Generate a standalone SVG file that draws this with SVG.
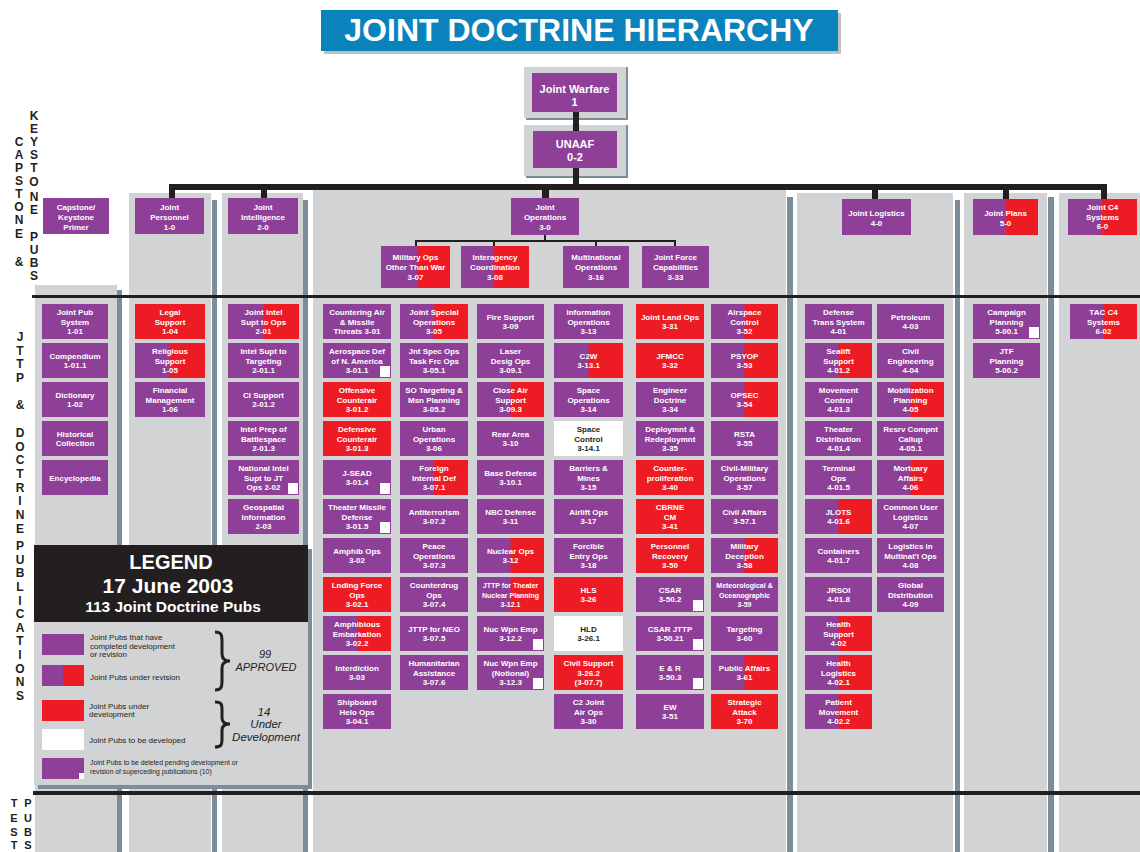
<svg xmlns="http://www.w3.org/2000/svg" width="1140" height="852" viewBox="0 0 1140 852">
<style>
.p{fill:#8e3f97}.r{fill:#ed1c24}.w{fill:#fff}.g{fill:#d1d3d4}.s{fill:#7b8d99}.k{fill:#231f20}
text{font-family:"Liberation Sans",Arial,sans-serif}
.t{font-size:8px;font-weight:bold;fill:#fff;text-anchor:middle}
.ts{font-size:7px;font-weight:bold;fill:#fff;text-anchor:middle}
.tb{font-size:8px;font-weight:bold;fill:#231f20;text-anchor:middle}
.v{font-size:12px;font-weight:bold;fill:#231f20;text-anchor:middle}
.lg{font-size:8px;fill:#231f20}
.li{font-size:11px;font-style:italic;fill:#231f20;text-anchor:middle}
</style>
<rect width="1140" height="852" fill="#fff"/>
<!-- title -->
<g id="title">
<rect x="324" y="13" width="517" height="41" fill="#bfc1c3"/>
<rect x="321" y="10" width="517" height="41" fill="#0a83bd"/>
<text x="579" y="41" font-size="32" font-weight="bold" fill="#fff" text-anchor="middle">JOINT DOCTRINE HIERARCHY</text>
</g>
<!-- column backgrounds -->
<g id="columns">
<rect class="g" x="35" y="285" width="82" height="567"/>
<rect class="s" x="117" y="290" width="5" height="562"/>
<rect class="g" x="129" y="193" width="82" height="659"/>
<rect class="s" x="212" y="200" width="5" height="652"/>
<rect class="g" x="222" y="193" width="81" height="659"/>
<rect class="s" x="303" y="200" width="5" height="652"/>
<rect class="g" x="313" y="190" width="473" height="662"/>
<rect class="s" x="787" y="197" width="6" height="655"/>
<rect class="g" x="797" y="193" width="156" height="659"/>
<rect class="s" x="955" y="200" width="5" height="652"/>
<rect class="g" x="964" y="193" width="83" height="659"/>
<rect class="s" x="1048" y="197" width="6" height="655"/>
<rect class="g" x="1059" y="193" width="81" height="659"/>
</g>
<!-- frames of top nodes -->
<g id="frames">
<rect class="g" x="524" y="67" width="102" height="51"/>
<rect class="s" x="626" y="67" width="2" height="53"/>
<rect class="s" x="526" y="118" width="102" height="2"/>
<rect class="g" x="524" y="125" width="102" height="51"/>
<rect class="s" x="626" y="125" width="2" height="53"/>
<rect class="s" x="526" y="176" width="102" height="2"/>
</g>
<!-- connectors -->
<g id="connectors" class="k">
<rect x="573" y="112" width="6" height="19"/>
<rect x="573" y="168" width="6" height="20"/>
<rect x="169" y="184" width="938" height="6"/>
<rect x="169" y="184" width="6" height="14"/>
<rect x="261" y="184" width="6" height="14"/>
<rect x="542" y="184" width="7" height="14"/>
<rect x="872" y="184" width="6" height="15"/>
<rect x="1003" y="184" width="6" height="15"/>
<rect x="1101" y="184" width="6" height="15"/>
<rect x="544" y="235" width="2" height="6"/>
<rect x="415" y="240" width="261" height="2"/>
<rect x="415" y="240" width="2" height="6"/>
<rect x="493" y="240" width="2" height="6"/>
<rect x="595" y="240" width="2" height="6"/>
<rect x="674" y="240" width="2" height="6"/>
<rect x="32" y="295" width="1108" height="3"/>
<rect x="33" y="791" width="1107" height="4"/>
</g>
<!-- side labels -->
<g id="side-labels">
<text class="v"><tspan x="19" y="146">C</tspan><tspan x="19" y="159">A</tspan><tspan x="19" y="172">P</tspan><tspan x="19" y="185">S</tspan><tspan x="19" y="198">T</tspan><tspan x="19" y="211">O</tspan><tspan x="19" y="224">N</tspan><tspan x="19" y="238">E</tspan><tspan x="19" y="266">&amp;</tspan></text>
<text class="v"><tspan x="34" y="120">K</tspan><tspan x="34" y="133">E</tspan><tspan x="34" y="146">Y</tspan><tspan x="34" y="159">S</tspan><tspan x="34" y="172">T</tspan><tspan x="34" y="186">O</tspan><tspan x="34" y="201">N</tspan><tspan x="34" y="214">E</tspan><tspan x="34" y="241">P</tspan><tspan x="34" y="254">U</tspan><tspan x="34" y="267">B</tspan><tspan x="34" y="280">S</tspan></text>
<text class="v"><tspan x="20" y="341">J</tspan><tspan x="20" y="354.5">T</tspan><tspan x="20" y="368">T</tspan><tspan x="20" y="381.5">P</tspan><tspan x="20" y="409">&amp;</tspan><tspan x="20" y="437">D</tspan><tspan x="20" y="450.6">O</tspan><tspan x="20" y="464">C</tspan><tspan x="20" y="478">T</tspan><tspan x="20" y="491.5">R</tspan><tspan x="20" y="505">I</tspan><tspan x="20" y="519">N</tspan><tspan x="20" y="532.5">E</tspan><tspan x="20" y="550">P</tspan><tspan x="20" y="563.6">U</tspan><tspan x="20" y="577">B</tspan><tspan x="20" y="591">L</tspan><tspan x="20" y="604.5">I</tspan><tspan x="20" y="618">C</tspan><tspan x="20" y="632">A</tspan><tspan x="20" y="645">T</tspan><tspan x="20" y="659">I</tspan><tspan x="20" y="672.6">O</tspan><tspan x="20" y="686">N</tspan><tspan x="20" y="700">S</tspan></text>
<text class="v" style="font-size:11px"><tspan x="14" y="807">T</tspan><tspan x="14" y="822">E</tspan><tspan x="14" y="836">S</tspan><tspan x="14" y="849">T</tspan><tspan x="28" y="807">P</tspan><tspan x="28" y="822">U</tspan><tspan x="28" y="836">B</tspan><tspan x="28" y="849">S</tspan></text>
</g>
<!-- top nodes -->
<g id="jp-1"><rect class="p" x="532" y="73" width="85" height="39"/><text class="t" style="font-size:11px" x="574.5" y="93"><tspan x="574.5">Joint Warfare</tspan><tspan x="574.5" dy="13">1</tspan></text></g>
<g id="jp-0-2"><rect class="p" x="533" y="131" width="84" height="37"/><text class="t" style="font-size:11px" x="575" y="148"><tspan x="575">UNAAF</tspan><tspan x="575" dy="13">0-2</tspan></text></g>
<g id="capstone-primer"><rect class="p" x="43" y="198" width="66" height="36"/><text class="t" x="76" y="210"><tspan x="76">Capstone/</tspan><tspan x="76" dy="10">Keystone</tspan><tspan x="76" dy="10">Primer</tspan></text></g>
<g id="jp-1-0"><rect class="p" x="135" y="198" width="69" height="36"/><text class="t" x="169.5" y="210"><tspan x="169.5">Joint</tspan><tspan x="169.5" dy="10">Personnel</tspan><tspan x="169.5" dy="10">1-0</tspan></text></g>
<g id="jp-2-0"><rect class="p" x="228" y="198" width="70" height="36"/><text class="t" x="263" y="210"><tspan x="263">Joint</tspan><tspan x="263" dy="10">Intelligence</tspan><tspan x="263" dy="10">2-0</tspan></text></g>
<g id="jp-3-0"><rect class="p" x="511" y="198" width="68" height="37"/><text class="t" x="545" y="210"><tspan x="545">Joint</tspan><tspan x="545" dy="10">Operations</tspan><tspan x="545" dy="9.5">3-0</tspan></text></g>
<g id="jp-4-0"><rect class="p" x="842" y="199" width="69" height="36"/><text class="t" x="876.5" y="216"><tspan x="876.5">Joint Logistics</tspan><tspan x="876.5" dy="9.5">4-0</tspan></text></g>
<g id="jp-5-0"><rect class="p" x="973" y="199" width="65" height="36"/><rect class="r" x="1006" y="199" width="32" height="36"/><text class="t" x="1005.5" y="216"><tspan x="1005.5">Joint Plans</tspan><tspan x="1005.5" dy="9.5">5-0</tspan></text></g>
<g id="jp-6-0"><rect class="p" x="1068" y="199" width="69" height="36"/><rect class="r" x="1102" y="199" width="35" height="36"/><text class="t" x="1102.5" y="210"><tspan x="1102.5">Joint C4</tspan><tspan x="1102.5" dy="9.5">Systems</tspan><tspan x="1102.5" dy="9.5">6-0</tspan></text></g>
<g id="jp-3-07"><rect class="p" x="381" y="246" width="69" height="42"/><rect class="r" x="417" y="246" width="33" height="42"/><text class="t" x="415.5" y="260"><tspan x="415.5">Military Ops</tspan><tspan x="415.5" dy="10">Other Than War</tspan><tspan x="415.5" dy="10">3-07</tspan></text></g>
<g id="jp-3-08"><rect class="p" x="461" y="246" width="68" height="42"/><rect class="r" x="494" y="246" width="35" height="42"/><text class="t" x="495" y="260"><tspan x="495">Interagency</tspan><tspan x="495" dy="10">Coordination</tspan><tspan x="495" dy="10">3-08</tspan></text></g>
<g id="jp-3-16"><rect class="p" x="563" y="246" width="66" height="42"/><text class="t" x="596" y="260"><tspan x="596">Multinational</tspan><tspan x="596" dy="10">Operations</tspan><tspan x="596" dy="10">3-16</tspan></text></g>
<g id="jp-3-33"><rect class="p" x="642" y="246" width="67" height="42"/><text class="t" x="675.5" y="260"><tspan x="675.5">Joint Force</tspan><tspan x="675.5" dy="10">Capabilities</tspan><tspan x="675.5" dy="10">3-33</tspan></text></g>
<!-- column 1 -->
<g id="jp-1-01"><rect class="p" x="42" y="304" width="66" height="35"/><text class="t" x="75" y="315"><tspan x="75">Joint Pub</tspan><tspan x="75" dy="9.5">System</tspan><tspan x="75" dy="9.5">1-01</tspan></text></g>
<g id="jp-1-01-1"><rect class="p" x="42" y="343" width="66" height="35"/><text class="t" x="75" y="358.75"><tspan x="75">Compendium</tspan><tspan x="75" dy="9.5">1-01.1</tspan></text></g>
<g id="jp-1-02"><rect class="p" x="42" y="382" width="66" height="35"/><text class="t" x="75" y="397.75"><tspan x="75">Dictionary</tspan><tspan x="75" dy="9.5">1-02</tspan></text></g>
<g id="historical"><rect class="p" x="42" y="421" width="66" height="35"/><text class="t" x="75" y="436.75"><tspan x="75">Historical</tspan><tspan x="75" dy="9.5">Collection</tspan></text></g>
<g id="encyclopedia"><rect class="p" x="42" y="460" width="66" height="35"/><text class="t" x="75" y="480.5">Encyclopedia</text></g>
<!-- column 2 -->
<g id="jp-1-04"><rect class="r" x="135" y="304" width="70" height="35"/><text class="t" x="170" y="315"><tspan x="170">Legal</tspan><tspan x="170" dy="9.5">Support</tspan><tspan x="170" dy="9.5">1-04</tspan></text></g>
<g id="jp-1-05"><rect class="p" x="135" y="343" width="70" height="35"/><rect class="r" x="170" y="343" width="35" height="35"/><text class="t" x="170" y="354"><tspan x="170">Religious</tspan><tspan x="170" dy="9.5">Support</tspan><tspan x="170" dy="9.5">1-05</tspan></text></g>
<g id="jp-1-06"><rect class="p" x="135" y="382" width="70" height="35"/><text class="t" x="170" y="393"><tspan x="170">Financial</tspan><tspan x="170" dy="9.5">Management</tspan><tspan x="170" dy="9.5">1-06</tspan></text></g>
<!-- column 3 -->
<g id="jp-2-01"><rect class="p" x="228" y="304" width="71" height="35"/><rect class="r" x="263.5" y="304" width="35.5" height="35"/><text class="t" x="263.5" y="315"><tspan x="263.5">Joint Intel</tspan><tspan x="263.5" dy="9.5">Supt to Ops</tspan><tspan x="263.5" dy="9.5">2-01</tspan></text></g>
<g id="jp-2-01-1"><rect class="p" x="228" y="343" width="71" height="35"/><text class="t" x="263.5" y="354"><tspan x="263.5">Intel Supt to</tspan><tspan x="263.5" dy="9.5">Targeting</tspan><tspan x="263.5" dy="9.5">2-01.1</tspan></text></g>
<g id="jp-2-01-2"><rect class="p" x="228" y="382" width="71" height="35"/><text class="t" x="263.5" y="397.75"><tspan x="263.5">CI Support</tspan><tspan x="263.5" dy="9.5">2-01.2</tspan></text></g>
<g id="jp-2-01-3"><rect class="p" x="228" y="421" width="71" height="35"/><text class="t" x="263.5" y="432"><tspan x="263.5">Intel Prep of</tspan><tspan x="263.5" dy="9.5">Battlespace</tspan><tspan x="263.5" dy="9.5">2-01.3</tspan></text></g>
<g id="jp-2-02"><rect class="p" x="228" y="460" width="71" height="35"/><rect class="w" x="288" y="483" width="10" height="11"/><text class="t" x="263.5" y="471"><tspan x="263.5">National Intel</tspan><tspan x="263.5" dy="9.5">Supt to JT</tspan><tspan x="263.5" dy="9.5">Ops 2-02</tspan></text></g>
<g id="jp-2-03"><rect class="p" x="228" y="499" width="71" height="35"/><text class="t" x="263.5" y="510"><tspan x="263.5">Geospatial</tspan><tspan x="263.5" dy="9.5">Information</tspan><tspan x="263.5" dy="9.5">2-03</tspan></text></g>
<!-- ops column A -->
<g id="jp-3-01"><rect class="p" x="323" y="304" width="68" height="35"/><text class="t" x="357" y="315"><tspan x="357">Countering Air</tspan><tspan x="357" dy="9.5">&amp; Missile</tspan><tspan x="357" dy="9.5">Threats 3-01</tspan></text></g>
<g id="jp-3-01-1"><rect class="p" x="323" y="343" width="68" height="35"/><rect class="w" x="380" y="366" width="10" height="11"/><text class="t" x="357" y="354"><tspan x="357">Aerospace Def</tspan><tspan x="357" dy="9.5">of N. America</tspan><tspan x="357" dy="9.5">3-01.1</tspan></text></g>
<g id="jp-3-01-2"><rect class="r" x="323" y="382" width="68" height="35"/><text class="t" x="357" y="393"><tspan x="357">Offensive</tspan><tspan x="357" dy="9.5">Counterair</tspan><tspan x="357" dy="9.5">3-01.2</tspan></text></g>
<g id="jp-3-01-3"><rect class="r" x="323" y="421" width="68" height="35"/><text class="t" x="357" y="432"><tspan x="357">Defensive</tspan><tspan x="357" dy="9.5">Counterair</tspan><tspan x="357" dy="9.5">3-01.3</tspan></text></g>
<g id="jp-3-01-4"><rect class="p" x="323" y="460" width="68" height="35"/><rect class="w" x="380" y="483" width="10" height="11"/><text class="t" x="357" y="475.75"><tspan x="357">J-SEAD</tspan><tspan x="357" dy="9.5">3-01.4</tspan></text></g>
<g id="jp-3-01-5"><rect class="p" x="323" y="499" width="68" height="35"/><rect class="w" x="380" y="522" width="10" height="11"/><text class="t" x="357" y="510"><tspan x="357">Theater Missile</tspan><tspan x="357" dy="9.5">Defense</tspan><tspan x="357" dy="9.5">3-01.5</tspan></text></g>
<g id="jp-3-02"><rect class="p" x="323" y="538" width="68" height="35"/><text class="t" x="357" y="553.75"><tspan x="357">Amphib Ops</tspan><tspan x="357" dy="9.5">3-02</tspan></text></g>
<g id="jp-3-02-1"><rect class="r" x="323" y="577" width="68" height="35"/><text class="t" x="357" y="588"><tspan x="357">Lnding Force</tspan><tspan x="357" dy="9.5">Ops</tspan><tspan x="357" dy="9.5">3-02.1</tspan></text></g>
<g id="jp-3-02-2"><rect class="p" x="323" y="616" width="68" height="35"/><rect class="r" x="357" y="616" width="34" height="35"/><text class="t" x="357" y="627"><tspan x="357">Amphibious</tspan><tspan x="357" dy="9.5">Embarkation</tspan><tspan x="357" dy="9.5">3-02.2</tspan></text></g>
<g id="jp-3-03"><rect class="p" x="323" y="655" width="68" height="35"/><text class="t" x="357" y="670.75"><tspan x="357">Interdiction</tspan><tspan x="357" dy="9.5">3-03</tspan></text></g>
<g id="jp-3-04-1"><rect class="p" x="323" y="694" width="68" height="35"/><text class="t" x="357" y="705"><tspan x="357">Shipboard</tspan><tspan x="357" dy="9.5">Helo Ops</tspan><tspan x="357" dy="9.5">3-04.1</tspan></text></g>
<!-- ops column B -->
<g id="jp-3-05"><rect class="p" x="400" y="304" width="68" height="35"/><rect class="r" x="434" y="304" width="34" height="35"/><text class="t" x="434" y="315"><tspan x="434">Joint Special</tspan><tspan x="434" dy="9.5">Operations</tspan><tspan x="434" dy="9.5">3-05</tspan></text></g>
<g id="jp-3-05-1"><rect class="p" x="400" y="343" width="68" height="35"/><text class="t" x="434" y="354"><tspan x="434">Jnt Spec Ops</tspan><tspan x="434" dy="9.5">Task Frc Ops</tspan><tspan x="434" dy="9.5">3-05.1</tspan></text></g>
<g id="jp-3-05-2"><rect class="p" x="400" y="382" width="68" height="35"/><text class="t" x="434" y="393"><tspan x="434">SO Targeting &amp;</tspan><tspan x="434" dy="9.5">Msn Planning</tspan><tspan x="434" dy="9.5">3-05.2</tspan></text></g>
<g id="jp-3-06"><rect class="p" x="400" y="421" width="68" height="35"/><text class="t" x="434" y="432"><tspan x="434">Urban</tspan><tspan x="434" dy="9.5">Operations</tspan><tspan x="434" dy="9.5">3-06</tspan></text></g>
<g id="jp-3-07-1"><rect class="p" x="400" y="460" width="68" height="35"/><rect class="r" x="434" y="460" width="34" height="35"/><text class="t" x="434" y="471"><tspan x="434">Foreign</tspan><tspan x="434" dy="9.5">Internal Def</tspan><tspan x="434" dy="9.5">3-07.1</tspan></text></g>
<g id="jp-3-07-2"><rect class="p" x="400" y="499" width="68" height="35"/><text class="t" x="434" y="514.75"><tspan x="434">Antiterrorism</tspan><tspan x="434" dy="9.5">3-07.2</tspan></text></g>
<g id="jp-3-07-3"><rect class="p" x="400" y="538" width="68" height="35"/><text class="t" x="434" y="549"><tspan x="434">Peace</tspan><tspan x="434" dy="9.5">Operations</tspan><tspan x="434" dy="9.5">3-07.3</tspan></text></g>
<g id="jp-3-07-4"><rect class="p" x="400" y="577" width="68" height="35"/><text class="t" x="434" y="588"><tspan x="434">Counterdrug</tspan><tspan x="434" dy="9.5">Ops</tspan><tspan x="434" dy="9.5">3-07.4</tspan></text></g>
<g id="jp-3-07-5"><rect class="p" x="400" y="616" width="68" height="35"/><text class="t" x="434" y="631.75"><tspan x="434">JTTP for NEO</tspan><tspan x="434" dy="9.5">3-07.5</tspan></text></g>
<g id="jp-3-07-6"><rect class="p" x="400" y="655" width="68" height="35"/><text class="t" x="434" y="666"><tspan x="434">Humanitarian</tspan><tspan x="434" dy="9.5">Assistance</tspan><tspan x="434" dy="9.5">3-07.6</tspan></text></g>
<!-- ops column C -->
<g id="jp-3-09"><rect class="p" x="477" y="304" width="67" height="35"/><text class="t" x="510.5" y="319.75"><tspan x="510.5">Fire Support</tspan><tspan x="510.5" dy="9.5">3-09</tspan></text></g>
<g id="jp-3-09-1"><rect class="p" x="477" y="343" width="67" height="35"/><text class="t" x="510.5" y="354"><tspan x="510.5">Laser</tspan><tspan x="510.5" dy="9.5">Desig Ops</tspan><tspan x="510.5" dy="9.5">3-09.1</tspan></text></g>
<g id="jp-3-09-3"><rect class="p" x="477" y="382" width="67" height="35"/><rect class="r" x="510.5" y="382" width="33.5" height="35"/><text class="t" x="510.5" y="393"><tspan x="510.5">Close Air</tspan><tspan x="510.5" dy="9.5">Support</tspan><tspan x="510.5" dy="9.5">3-09.3</tspan></text></g>
<g id="jp-3-10"><rect class="p" x="477" y="421" width="67" height="35"/><text class="t" x="510.5" y="436.75"><tspan x="510.5">Rear Area</tspan><tspan x="510.5" dy="9.5">3-10</tspan></text></g>
<g id="jp-3-10-1"><rect class="p" x="477" y="460" width="67" height="35"/><text class="t" x="510.5" y="475.75"><tspan x="510.5">Base Defense</tspan><tspan x="510.5" dy="9.5">3-10.1</tspan></text></g>
<g id="jp-3-11"><rect class="p" x="477" y="499" width="67" height="35"/><text class="t" x="510.5" y="514.75"><tspan x="510.5">NBC Defense</tspan><tspan x="510.5" dy="9.5">3-11</tspan></text></g>
<g id="jp-3-12"><rect class="p" x="477" y="538" width="67" height="35"/><rect class="r" x="510.5" y="538" width="33.5" height="35"/><text class="t" x="510.5" y="553.75"><tspan x="510.5">Nuclear Ops</tspan><tspan x="510.5" dy="9.5">3-12</tspan></text></g>
<g id="jp-3-12-1"><rect class="p" x="477" y="577" width="67" height="35"/><rect class="r" x="510.5" y="577" width="33.5" height="35"/><text class="ts" x="510.5" y="588"><tspan x="510.5">JTTP for Theater</tspan><tspan x="510.5" dy="9.5">Nuclear Planning</tspan><tspan x="510.5" dy="9.5">3-12.1</tspan></text></g>
<g id="jp-3-12-2"><rect class="p" x="477" y="616" width="67" height="35"/><rect class="w" x="533" y="639" width="10" height="11"/><text class="t" x="510.5" y="631.75"><tspan x="510.5">Nuc Wpn Emp</tspan><tspan x="510.5" dy="9.5">3-12.2</tspan></text></g>
<g id="jp-3-12-3"><rect class="p" x="477" y="655" width="67" height="35"/><rect class="w" x="533" y="678" width="10" height="11"/><text class="t" x="510.5" y="666"><tspan x="510.5">Nuc Wpn Emp</tspan><tspan x="510.5" dy="9.5">(Notional)</tspan><tspan x="510.5" dy="9.5">3-12.3</tspan></text></g>
<!-- ops column D -->
<g id="jp-3-13"><rect class="p" x="554" y="304" width="69" height="35"/><text class="t" x="588.5" y="315"><tspan x="588.5">Information</tspan><tspan x="588.5" dy="9.5">Operations</tspan><tspan x="588.5" dy="9.5">3-13</tspan></text></g>
<g id="jp-3-13-1"><rect class="p" x="554" y="343" width="69" height="35"/><rect class="r" x="588.5" y="343" width="34.5" height="35"/><text class="t" x="588.5" y="358.75"><tspan x="588.5">C2W</tspan><tspan x="588.5" dy="9.5">3-13.1</tspan></text></g>
<g id="jp-3-14"><rect class="p" x="554" y="382" width="69" height="35"/><text class="t" x="588.5" y="393"><tspan x="588.5">Space</tspan><tspan x="588.5" dy="9.5">Operations</tspan><tspan x="588.5" dy="9.5">3-14</tspan></text></g>
<g id="jp-3-14-1"><rect class="w" x="554" y="421" width="69" height="35"/><text class="tb" x="588.5" y="432"><tspan x="588.5">Space</tspan><tspan x="588.5" dy="9.5">Control</tspan><tspan x="588.5" dy="9.5">3-14.1</tspan></text></g>
<g id="jp-3-15"><rect class="p" x="554" y="460" width="69" height="35"/><text class="t" x="588.5" y="471"><tspan x="588.5">Barriers &amp;</tspan><tspan x="588.5" dy="9.5">Mines</tspan><tspan x="588.5" dy="9.5">3-15</tspan></text></g>
<g id="jp-3-17"><rect class="p" x="554" y="499" width="69" height="35"/><text class="t" x="588.5" y="514.75"><tspan x="588.5">Airlift Ops</tspan><tspan x="588.5" dy="9.5">3-17</tspan></text></g>
<g id="jp-3-18"><rect class="p" x="554" y="538" width="69" height="35"/><text class="t" x="588.5" y="549"><tspan x="588.5">Forcible</tspan><tspan x="588.5" dy="9.5">Entry Ops</tspan><tspan x="588.5" dy="9.5">3-18</tspan></text></g>
<g id="jp-3-26"><rect class="r" x="554" y="577" width="69" height="35"/><text class="t" x="588.5" y="592.75"><tspan x="588.5">HLS</tspan><tspan x="588.5" dy="9.5">3-26</tspan></text></g>
<g id="jp-3-26-1"><rect class="w" x="554" y="616" width="69" height="35"/><text class="tb" x="588.5" y="631.75"><tspan x="588.5">HLD</tspan><tspan x="588.5" dy="9.5">3-26.1</tspan></text></g>
<g id="jp-3-26-2"><rect class="r" x="554" y="655" width="69" height="35"/><text class="t" x="588.5" y="666"><tspan x="588.5">Civil Support</tspan><tspan x="588.5" dy="9.5">3-26.2</tspan><tspan x="588.5" dy="9.5">(3-07.7)</tspan></text></g>
<g id="jp-3-30"><rect class="p" x="554" y="694" width="69" height="35"/><text class="t" x="588.5" y="705"><tspan x="588.5">C2 Joint</tspan><tspan x="588.5" dy="9.5">Air Ops</tspan><tspan x="588.5" dy="9.5">3-30</tspan></text></g>
<!-- ops column E -->
<g id="jp-3-31"><rect class="r" x="636" y="304" width="68" height="35"/><text class="t" x="670" y="319.75"><tspan x="670">Joint Land Ops</tspan><tspan x="670" dy="9.5">3-31</tspan></text></g>
<g id="jp-3-32"><rect class="r" x="636" y="343" width="68" height="35"/><text class="t" x="670" y="358.75"><tspan x="670">JFMCC</tspan><tspan x="670" dy="9.5">3-32</tspan></text></g>
<g id="jp-3-34"><rect class="p" x="636" y="382" width="68" height="35"/><text class="t" x="670" y="393"><tspan x="670">Engineer</tspan><tspan x="670" dy="9.5">Doctrine</tspan><tspan x="670" dy="9.5">3-34</tspan></text></g>
<g id="jp-3-35"><rect class="p" x="636" y="421" width="68" height="35"/><text class="t" x="670" y="432"><tspan x="670">Deploymnt &amp;</tspan><tspan x="670" dy="9.5">Redeploymnt</tspan><tspan x="670" dy="9.5">3-35</tspan></text></g>
<g id="jp-3-40"><rect class="r" x="636" y="460" width="68" height="35"/><text class="t" x="670" y="471"><tspan x="670">Counter-</tspan><tspan x="670" dy="9.5">proliferation</tspan><tspan x="670" dy="9.5">3-40</tspan></text></g>
<g id="jp-3-41"><rect class="r" x="636" y="499" width="68" height="35"/><text class="t" x="670" y="510"><tspan x="670">CBRNE</tspan><tspan x="670" dy="9.5">CM</tspan><tspan x="670" dy="9.5">3-41</tspan></text></g>
<g id="jp-3-50"><rect class="r" x="636" y="538" width="68" height="35"/><text class="t" x="670" y="549"><tspan x="670">Personnel</tspan><tspan x="670" dy="9.5">Recovery</tspan><tspan x="670" dy="9.5">3-50</tspan></text></g>
<g id="jp-3-50-2"><rect class="p" x="636" y="577" width="68" height="35"/><rect class="w" x="693" y="600" width="10" height="11"/><text class="t" x="670" y="592.75"><tspan x="670">CSAR</tspan><tspan x="670" dy="9.5">3-50.2</tspan></text></g>
<g id="jp-3-50-21"><rect class="p" x="636" y="616" width="68" height="35"/><rect class="w" x="693" y="639" width="10" height="11"/><text class="t" x="670" y="631.75"><tspan x="670">CSAR JTTP</tspan><tspan x="670" dy="9.5">3-50.21</tspan></text></g>
<g id="jp-3-50-3"><rect class="p" x="636" y="655" width="68" height="35"/><rect class="w" x="693" y="678" width="10" height="11"/><text class="t" x="670" y="670.75"><tspan x="670">E &amp; R</tspan><tspan x="670" dy="9.5">3-50.3</tspan></text></g>
<g id="jp-3-51"><rect class="p" x="636" y="694" width="68" height="35"/><text class="t" x="670" y="709.75"><tspan x="670">EW</tspan><tspan x="670" dy="9.5">3-51</tspan></text></g>
<!-- ops column F -->
<g id="jp-3-52"><rect class="p" x="711" y="304" width="67" height="35"/><rect class="r" x="744.5" y="304" width="33.5" height="35"/><text class="t" x="744.5" y="315"><tspan x="744.5">Airspace</tspan><tspan x="744.5" dy="9.5">Control</tspan><tspan x="744.5" dy="9.5">3-52</tspan></text></g>
<g id="jp-3-53"><rect class="p" x="711" y="343" width="67" height="35"/><rect class="r" x="744.5" y="343" width="33.5" height="35"/><text class="t" x="744.5" y="358.75"><tspan x="744.5">PSYOP</tspan><tspan x="744.5" dy="9.5">3-53</tspan></text></g>
<g id="jp-3-54"><rect class="p" x="711" y="382" width="67" height="35"/><rect class="r" x="744.5" y="382" width="33.5" height="35"/><text class="t" x="744.5" y="397.75"><tspan x="744.5">OPSEC</tspan><tspan x="744.5" dy="9.5">3-54</tspan></text></g>
<g id="jp-3-55"><rect class="p" x="711" y="421" width="67" height="35"/><text class="t" x="744.5" y="436.75"><tspan x="744.5">RSTA</tspan><tspan x="744.5" dy="9.5">3-55</tspan></text></g>
<g id="jp-3-57"><rect class="p" x="711" y="460" width="67" height="35"/><text class="t" x="744.5" y="471"><tspan x="744.5">Civil-Military</tspan><tspan x="744.5" dy="9.5">Operations</tspan><tspan x="744.5" dy="9.5">3-57</tspan></text></g>
<g id="jp-3-57-1"><rect class="p" x="711" y="499" width="67" height="35"/><text class="t" x="744.5" y="514.75"><tspan x="744.5">Civil Affairs</tspan><tspan x="744.5" dy="9.5">3-57.1</tspan></text></g>
<g id="jp-3-58"><rect class="p" x="711" y="538" width="67" height="35"/><rect class="r" x="744.5" y="538" width="33.5" height="35"/><text class="t" x="744.5" y="549"><tspan x="744.5">Military</tspan><tspan x="744.5" dy="9.5">Deception</tspan><tspan x="744.5" dy="9.5">3-58</tspan></text></g>
<g id="jp-3-59"><rect class="p" x="711" y="577" width="67" height="35"/><text class="ts" x="744.5" y="588"><tspan x="744.5">Meteorological &amp;</tspan><tspan x="744.5" dy="9.5">Oceanographic</tspan><tspan x="744.5" dy="9.5">3-59</tspan></text></g>
<g id="jp-3-60"><rect class="p" x="711" y="616" width="67" height="35"/><text class="t" x="744.5" y="631.75"><tspan x="744.5">Targeting</tspan><tspan x="744.5" dy="9.5">3-60</tspan></text></g>
<g id="jp-3-61"><rect class="p" x="711" y="655" width="67" height="35"/><rect class="r" x="744.5" y="655" width="33.5" height="35"/><text class="t" x="744.5" y="670.75"><tspan x="744.5">Public Affairs</tspan><tspan x="744.5" dy="9.5">3-61</tspan></text></g>
<g id="jp-3-70"><rect class="r" x="711" y="694" width="67" height="35"/><text class="t" x="744.5" y="705"><tspan x="744.5">Strategic</tspan><tspan x="744.5" dy="9.5">Attack</tspan><tspan x="744.5" dy="9.5">3-70</tspan></text></g>
<!-- logistics G -->
<g id="jp-4-01"><rect class="p" x="805" y="304" width="67" height="35"/><text class="t" x="838.5" y="315"><tspan x="838.5">Defense</tspan><tspan x="838.5" dy="9.5">Trans System</tspan><tspan x="838.5" dy="9.5">4-01</tspan></text></g>
<g id="jp-4-01-2"><rect class="p" x="805" y="343" width="67" height="35"/><rect class="r" x="838.5" y="343" width="33.5" height="35"/><text class="t" x="838.5" y="354"><tspan x="838.5">Sealift</tspan><tspan x="838.5" dy="9.5">Support</tspan><tspan x="838.5" dy="9.5">4-01.2</tspan></text></g>
<g id="jp-4-01-3"><rect class="p" x="805" y="382" width="67" height="35"/><text class="t" x="838.5" y="393"><tspan x="838.5">Movement</tspan><tspan x="838.5" dy="9.5">Control</tspan><tspan x="838.5" dy="9.5">4-01.3</tspan></text></g>
<g id="jp-4-01-4"><rect class="p" x="805" y="421" width="67" height="35"/><text class="t" x="838.5" y="432"><tspan x="838.5">Theater</tspan><tspan x="838.5" dy="9.5">Distribution</tspan><tspan x="838.5" dy="9.5">4-01.4</tspan></text></g>
<g id="jp-4-01-5"><rect class="p" x="805" y="460" width="67" height="35"/><text class="t" x="838.5" y="471"><tspan x="838.5">Terminal</tspan><tspan x="838.5" dy="9.5">Ops</tspan><tspan x="838.5" dy="9.5">4-01.5</tspan></text></g>
<g id="jp-4-01-6"><rect class="p" x="805" y="499" width="67" height="35"/><rect class="r" x="838.5" y="499" width="33.5" height="35"/><text class="t" x="838.5" y="514.75"><tspan x="838.5">JLOTS</tspan><tspan x="838.5" dy="9.5">4-01.6</tspan></text></g>
<g id="jp-4-01-7"><rect class="p" x="805" y="538" width="67" height="35"/><text class="t" x="838.5" y="553.75"><tspan x="838.5">Containers</tspan><tspan x="838.5" dy="9.5">4-01.7</tspan></text></g>
<g id="jp-4-01-8"><rect class="p" x="805" y="577" width="67" height="35"/><text class="t" x="838.5" y="592.75"><tspan x="838.5">JRSOI</tspan><tspan x="838.5" dy="9.5">4-01.8</tspan></text></g>
<g id="jp-4-02"><rect class="p" x="805" y="616" width="67" height="35"/><rect class="r" x="838.5" y="616" width="33.5" height="35"/><text class="t" x="838.5" y="627"><tspan x="838.5">Health</tspan><tspan x="838.5" dy="9.5">Support</tspan><tspan x="838.5" dy="9.5">4-02</tspan></text></g>
<g id="jp-4-02-1"><rect class="p" x="805" y="655" width="67" height="35"/><rect class="r" x="838.5" y="655" width="33.5" height="35"/><text class="t" x="838.5" y="666"><tspan x="838.5">Health</tspan><tspan x="838.5" dy="9.5">Logistics</tspan><tspan x="838.5" dy="9.5">4-02.1</tspan></text></g>
<g id="jp-4-02-2"><rect class="p" x="805" y="694" width="67" height="35"/><rect class="r" x="838.5" y="694" width="33.5" height="35"/><text class="t" x="838.5" y="705"><tspan x="838.5">Patient</tspan><tspan x="838.5" dy="9.5">Movement</tspan><tspan x="838.5" dy="9.5">4-02.2</tspan></text></g>
<!-- logistics H -->
<g id="jp-4-03"><rect class="p" x="877" y="304" width="67" height="35"/><text class="t" x="910.5" y="319.75"><tspan x="910.5">Petroleum</tspan><tspan x="910.5" dy="9.5">4-03</tspan></text></g>
<g id="jp-4-04"><rect class="p" x="877" y="343" width="67" height="35"/><text class="t" x="910.5" y="354"><tspan x="910.5">Civil</tspan><tspan x="910.5" dy="9.5">Engineering</tspan><tspan x="910.5" dy="9.5">4-04</tspan></text></g>
<g id="jp-4-05"><rect class="p" x="877" y="382" width="67" height="35"/><rect class="r" x="910.5" y="382" width="33.5" height="35"/><text class="t" x="910.5" y="393"><tspan x="910.5">Mobilization</tspan><tspan x="910.5" dy="9.5">Planning</tspan><tspan x="910.5" dy="9.5">4-05</tspan></text></g>
<g id="jp-4-05-1"><rect class="p" x="877" y="421" width="67" height="35"/><text class="t" x="910.5" y="432"><tspan x="910.5">Resrv Compnt</tspan><tspan x="910.5" dy="9.5">Callup</tspan><tspan x="910.5" dy="9.5">4-05.1</tspan></text></g>
<g id="jp-4-06"><rect class="p" x="877" y="460" width="67" height="35"/><rect class="r" x="910.5" y="460" width="33.5" height="35"/><text class="t" x="910.5" y="471"><tspan x="910.5">Mortuary</tspan><tspan x="910.5" dy="9.5">Affairs</tspan><tspan x="910.5" dy="9.5">4-06</tspan></text></g>
<g id="jp-4-07"><rect class="p" x="877" y="499" width="67" height="35"/><text class="t" x="910.5" y="510"><tspan x="910.5">Common User</tspan><tspan x="910.5" dy="9.5">Logistics</tspan><tspan x="910.5" dy="9.5">4-07</tspan></text></g>
<g id="jp-4-08"><rect class="p" x="877" y="538" width="67" height="35"/><text class="t" x="910.5" y="549"><tspan x="910.5">Logistics in</tspan><tspan x="910.5" dy="9.5">Multinat'l Ops</tspan><tspan x="910.5" dy="9.5">4-08</tspan></text></g>
<g id="jp-4-09"><rect class="p" x="877" y="577" width="67" height="35"/><text class="t" x="910.5" y="588"><tspan x="910.5">Global</tspan><tspan x="910.5" dy="9.5">Distribution</tspan><tspan x="910.5" dy="9.5">4-09</tspan></text></g>
<!-- plans -->
<g id="jp-5-00-1"><rect class="p" x="973" y="304" width="67" height="35"/><rect class="w" x="1029" y="327" width="10" height="11"/><text class="t" x="1006.5" y="315"><tspan x="1006.5">Campaign</tspan><tspan x="1006.5" dy="9.5">Planning</tspan><tspan x="1006.5" dy="9.5">5-00.1</tspan></text></g>
<g id="jp-5-00-2"><rect class="p" x="973" y="343" width="67" height="35"/><text class="t" x="1006.5" y="354"><tspan x="1006.5">JTF</tspan><tspan x="1006.5" dy="9.5">Planning</tspan><tspan x="1006.5" dy="9.5">5-00.2</tspan></text></g>
<!-- c4 -->
<g id="jp-6-02"><rect class="p" x="1070" y="304" width="67" height="35"/><rect class="r" x="1103.5" y="304" width="33.5" height="35"/><text class="t" x="1103.5" y="315"><tspan x="1103.5">TAC C4</tspan><tspan x="1103.5" dy="9.5">Systems</tspan><tspan x="1103.5" dy="9.5">6-02</tspan></text></g>
<!-- legend -->
<g id="legend">
<rect class="s" x="38" y="549" width="274" height="240"/>
<rect class="k" x="34" y="545" width="274" height="77"/>
<rect class="g" x="34" y="622" width="274" height="163"/>
<text x="171" y="569" font-size="20" font-weight="bold" fill="#fff" text-anchor="middle">LEGEND</text>
<text x="168" y="593" font-size="21" font-weight="bold" fill="#fff" text-anchor="middle">17 June 2003</text>
<text x="173" y="612" font-size="15.5" font-weight="bold" fill="#fff" text-anchor="middle">113 Joint Doctrine Pubs</text>
<rect class="p" x="42" y="634" width="42" height="21"/>
<rect class="p" x="42" y="665" width="42" height="21"/><rect class="r" x="63" y="665" width="21" height="21"/>
<rect class="r" x="42" y="700" width="42" height="21"/>
<rect class="w" x="42" y="729" width="42" height="21"/>
<rect class="p" x="42" y="758" width="42" height="21"/><rect class="w" x="79" y="773" width="5" height="6"/>
<text class="lg"><tspan x="90" y="640">Joint Pubs that have</tspan><tspan x="90" y="648.5">completed development</tspan><tspan x="90" y="656.5">or revision</tspan></text>
<text class="lg" x="90" y="680">Joint Pubs under revision</text>
<text class="lg"><tspan x="89" y="709">Joint Pubs under</tspan><tspan x="89" y="717">development</tspan></text>
<text class="lg" x="89" y="743">Joint Pubs to be developed</text>
<text class="lg" style="font-size:6.8px"><tspan x="90" y="765">Joint Pubs to be deleted pending development or</tspan><tspan x="90" y="774">revision of superceding publications (10)</tspan></text>
<path d="M215,632 C222,632 222,636 222,642 L222,654 C222,659 225,661 230,661 C225,661 222,663 222,668 L222,680 C222,686 222,690 215,690" fill="none" stroke="#231f20" stroke-width="3"/>
<path d="M215,702 C222,702 222,705 222,710 L222,718 C222,722 225,724 230,724 C225,724 222,726 222,730 L222,739 C222,744 222,747 215,747" fill="none" stroke="#231f20" stroke-width="3"/>
<text class="li"><tspan x="265" y="658">99</tspan><tspan x="266" y="671">APPROVED</tspan></text>
<text class="li" style="font-size:11.5px"><tspan x="264" y="716">14</tspan><tspan x="266" y="728">Under</tspan><tspan x="266" y="741">Development</tspan></text>
</g>
</svg>
